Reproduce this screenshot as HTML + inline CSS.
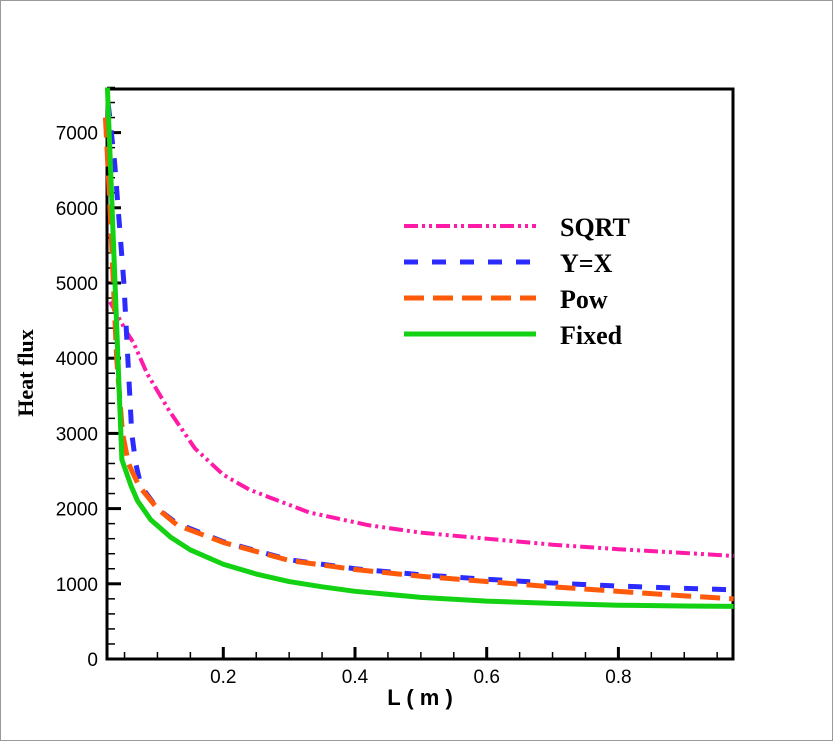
<!DOCTYPE html>
<html><head><meta charset="utf-8"><style>
body{margin:0;background:#fff}
svg{display:block}
text{font-family:"Liberation Sans",sans-serif}
</style></head><body>
<svg width="833" height="741">
<rect x="0.5" y="0.5" width="832" height="740" fill="#fff" stroke="#999"/>
<g id="axes"></g>
<g id="series"></g>
<g id="legend"></g>
<text x="420" y="705" font-size="22" font-weight="bold" text-anchor="middle">L ( m )</text>
<text transform="translate(33,373) rotate(-90)" font-size="22" font-weight="bold" text-anchor="middle" style="font-family:'Liberation Serif',serif">Heat flux</text>
</svg>
<script>
const xTicks=[0.2,0.4,0.6,0.8];
const yTicks=[0,1000,2000,3000,4000,5000,6000,7000];
const seriesNames=["SQRT","Y=X","Pow","Fixed"];
const sqrtX=[0.028,0.053,0.064,0.084,0.118,0.157,0.2,0.24,0.27,0.33,0.42,0.5,0.6,0.7,0.8,0.9,0.975];
const sqrtY=[4750,4350,4200,3800,3300,2800,2450,2250,2150,1950,1780,1680,1600,1520,1460,1410,1370];
const yxX=[0.025,0.035,0.049,0.055,0.061,0.067,0.075,0.1,0.13,0.2,0.3,0.4,0.5,0.6,0.7,0.8,0.9,0.975];
const yxY=[7400,6600,5000,4000,3000,2600,2300,2000,1800,1560,1320,1200,1120,1060,1010,970,940,920];
const powX=[0.021,0.028,0.033,0.038,0.047,0.056,0.072,0.1,0.13,0.2,0.3,0.4,0.5,0.6,0.7,0.8,0.9,0.975];
const powY=[7200,6000,5000,4000,3000,2600,2300,2000,1780,1550,1310,1190,1100,1030,960,900,840,800];
const fixX=[0.024,0.046,0.06,0.07,0.09,0.12,0.15,0.2,0.25,0.3,0.35,0.4,0.5,0.6,0.7,0.8,0.9,0.975];
const fixY=[7600,2650,2300,2100,1850,1620,1450,1260,1130,1030,960,900,820,770,740,715,705,700];
const L=107,R=733,T=89,B=659;
const X=v=>91.6+v*658.5;
const Y=v=>B-v*0.0752;
const NS="http://www.w3.org/2000/svg";
function mk(tag,attrs,parent){const e=document.createElementNS(NS,tag);for(const k in attrs)e.setAttribute(k,attrs[k]);parent.appendChild(e);return e;}
const ax=document.getElementById('axes');
for(let v=0.05;v<0.975;v+=0.05){
 const major=Math.abs(v*5-Math.round(v*5))<1e-6;
 const t=mk('line',{x1:X(v),x2:X(v),y1:B,y2:B-(major?12:7),stroke:'#000','stroke-width':major?3:1.5},ax);
 
 
}
for(let v=200;v<7800;v+=200){
 const major=v%1000===0;
 const t=mk('line',{x1:L,x2:L+(major?14:8),y1:Y(v),y2:Y(v),stroke:'#000','stroke-width':major?3:1.5},ax);
 
 
}
xTicks.forEach(v=>{const t=mk('text',{x:X(v),y:683,'font-size':19,'text-anchor':'middle'},ax);t.textContent=v;
 
 });
yTicks.forEach(v=>{const t=mk('text',{x:98,y:Y(v)+7,'font-size':19,'text-anchor':'end'},ax);t.textContent=v;
 
 });
const box=mk('path',{d:`M${L},${T}H${R}V${B}H${L}Z`,fill:'none',stroke:'#000','stroke-width':3},ax);


const styles=[{c:'#ff1aa8',d:'14 4 3 4 3 4',w:4},{c:'#2b2bff',d:'14 14',w:5},{c:'#ff5a0a',d:'20 9',w:5},{c:'#13d113',d:'',w:5}];
const data=[[sqrtX,sqrtY],[yxX,yxY],[powX,powY],[fixX,fixY]];
const sg=document.getElementById('series');
data.forEach((d,i)=>{
 const pts=d[0].map((x,j)=>X(x)+','+Y(d[1][j])).join(' ');
 const p=mk('polyline',{points:pts,fill:'none',stroke:styles[i].c,'stroke-width':styles[i].w,'stroke-dasharray':styles[i].d,'stroke-linejoin':'round'},sg);
 
 
});
const lg=document.getElementById('legend');
seriesNames.forEach((n,i)=>{
 const y=226+i*36;
 const l=mk('line',{x1:404,x2:536,y1:y,y2:y,stroke:styles[i].c,'stroke-width':styles[i].w,'stroke-dasharray':styles[i].d},lg);
 
 
 const t=mk('text',{x:560,y:y+10,'font-size':26,'font-weight':'bold',style:"font-family:'Liberation Serif',serif"},lg);
 t.textContent=n;
 
 
});
</script>
</body></html>
